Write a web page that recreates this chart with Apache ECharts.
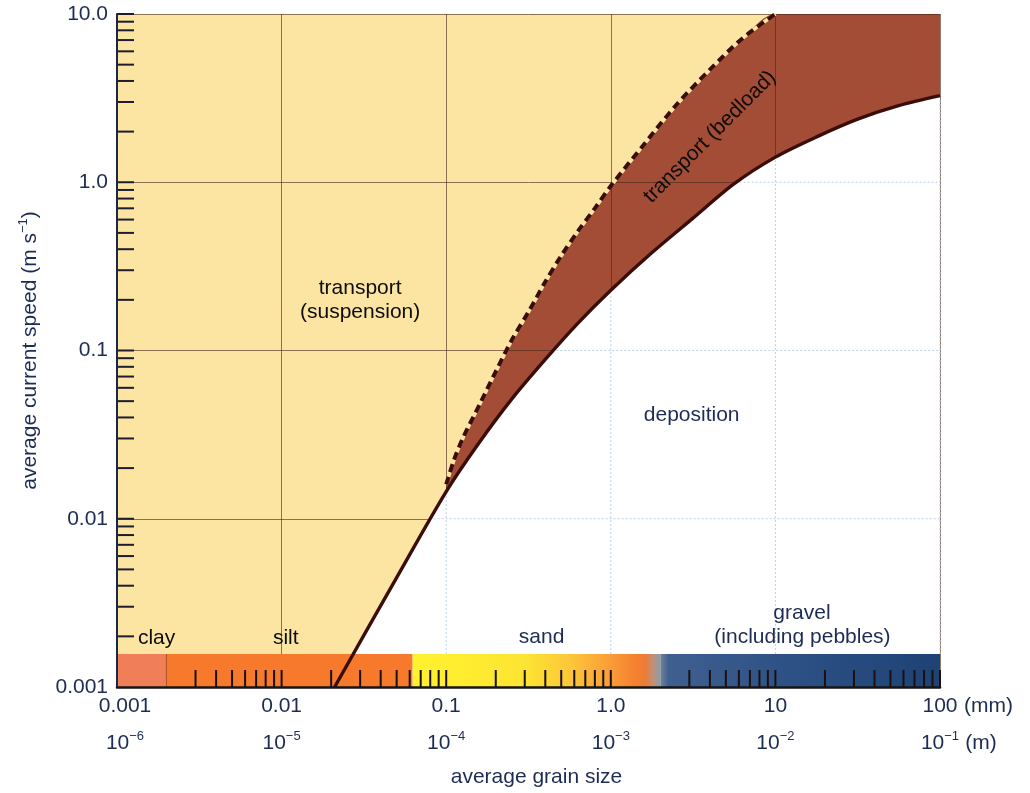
<!DOCTYPE html>
<html><head><meta charset="utf-8">
<script src="https://cdn.jsdelivr.net/npm/echarts@6/dist/echarts.min.js"></script>
<style>html,body{margin:0;padding:0;background:#fff}#c{width:1030px;height:793px}</style>
</head><body><div id="c"></div>
<script>
// ---------------- data ----------------
const xTickMm  = ['0.001', '0.01', '0.1', '1.0', '10', '100'];
const xTickExp = ['\u22126', '\u22125', '\u22124', '\u22123', '\u22122', '\u22121'];
const yTickLabels = ['0.001', '0.01', '0.1', '1.0', '10.0'];

// lower boundary of transport (solid curve): grain size mm, speed m/s
const solidX = [0.021, 0.05, 0.1, 0.158, 0.25, 0.4, 0.63, 1.0, 1.78, 3.16, 5.6, 10, 17.8, 31.6, 56, 100];
const solidY = [0.001, 0.00447, 0.0145, 0.0282, 0.0514, 0.0885, 0.145, 0.228, 0.382, 0.612, 0.977, 1.41, 1.86, 2.37, 2.85, 3.27];

// suspension / bedload boundary (dashed curve)
const dashX = [0.1, 0.112, 0.126, 0.16, 0.2, 0.25, 0.32, 0.4, 0.5, 0.63, 0.8, 1.0, 1.6, 2.5, 4.0, 6.3, 10];
const dashY = [0.016, 0.0226, 0.030, 0.048, 0.075, 0.115, 0.173, 0.256, 0.366, 0.51, 0.70, 0.95, 1.69, 2.88, 4.67, 7.16, 10];

// top edge of the bedload zone
const topEdgeX = [100];
const topEdgeY = [10];

// grain-size classes along the bottom band
const bandNames = ['clay', 'silt', 'sand', 'gravel'];
const bandFrom  = [0.001, 0.002, 0.0625, 2];
const bandTo    = [0.002, 0.0625, 2, 100];
const bandTop   = 0.00157;

const bandTicks = [0.003,0.004,0.005,0.006,0.007,0.008,0.009,0.01,
  0.02,0.03,0.04,0.05,0.06,0.07,0.08,0.09,0.1,
  0.2,0.3,0.4,0.5,0.6,0.7,0.8,0.9,1,
  3,4,5,6,7,8,9,10,
  20,30,40,50,60,70,80,90,100];
const yTicks = [0.002,0.003,0.004,0.005,0.006,0.007,0.008,0.009,0.01,
  0.02,0.03,0.04,0.05,0.06,0.07,0.08,0.09,0.1,
  0.2,0.3,0.4,0.5,0.6,0.7,0.8,0.9,1,
  2,3,4,5,6,7,8,9,10];

const faintVx = [0.1, 1, 10, 100];
const faintHy = [0.01, 0.1, 1];

const annoText = ['transport\n(suspension)', 'transport (bedload)', 'deposition', 'clay', 'silt', 'sand', 'gravel', '(including pebbles)'];
const annoX = [0.03, 4.0, 3.1, 0.00134, 0.0106, 0.38, 14.5, 14.6];
const annoY = [0.2, 1.86, 0.041, 0.00195, 0.00195, 0.00198, 0.00275, 0.00198];

// ---------------- styles ----------------
const FONT = '"Liberation Sans", Arial, sans-serif';
const NAVY = '#1d2b55';
const INK = '#0c0c0c';
const CURVE = '#3a0d0a';
const YELLOW = '#fce5a3';
const annoColor = [INK, INK, NAVY, INK, INK, NAVY, NAVY, NAVY];
const annoAlign = ['center', 'center', 'center', 'left', 'center', 'center', 'center', 'center'];
const annoRot = [0, 45, 0, 0, 0, 0, 0, 0];
const LG = echarts.graphic.LinearGradient;
const bandFill = [
  '#f07e57',
  '#f6792c',
  new LG(0, 0, 1, 0, [
    {offset: 0, color: '#fff22e'}, {offset: 0.45, color: '#fde532'},
    {offset: 0.65, color: '#fcc43a'}, {offset: 0.8, color: '#f99c38'},
    {offset: 0.9, color: '#f5802f'}, {offset: 0.94, color: '#ec7c36'},
    {offset: 0.975, color: '#b89483'}, {offset: 1, color: '#8e9aa6'}]),
  new LG(0, 0, 1, 0, [
    {offset: 0, color: '#70839a'}, {offset: 0.03, color: '#3f5f8f'},
    {offset: 0.5, color: '#2c5084'}, {offset: 1, color: '#1f4275'}])
];

function logInterp(xs, ys, v) {
  const lv = Math.log10(v);
  for (let i = 0; i < xs.length - 1; i++) {
    const a = Math.log10(xs[i]), b = Math.log10(xs[i + 1]);
    if (lv >= a && lv <= b) {
      const t = (lv - a) / (b - a);
      return Math.pow(10, Math.log10(ys[i]) + t * (Math.log10(ys[i + 1]) - Math.log10(ys[i])));
    }
  }
  return lv < Math.log10(xs[0]) ? ys[0] : ys[ys.length - 1];
}

const zip = (a, b) => a.map((v, i) => [v, b[i]]);
const solidData = zip(solidX, solidY);
const dashData = zip(dashX, dashY);
const brownData = dashData.concat(zip(topEdgeX, topEdgeY));
const SMOOTH = 0.3;

const chart = echarts.init(document.getElementById('c'), null, {renderer: 'canvas'});

const xRich = {
  a: {fontSize: 21, lineHeight: 24, color: NAVY, fontFamily: FONT},
  b: {fontSize: 21, lineHeight: 24, color: NAVY, fontFamily: FONT, verticalAlign: 'bottom'},
  s: {fontSize: 13, lineHeight: 14, color: NAVY, fontFamily: FONT, verticalAlign: 'top'},
  sp: {fontSize: 4, lineHeight: 12},
  q: {width: 16, fontSize: 21, lineHeight: 24},
  pm: {width: 56, fontSize: 21, lineHeight: 24},
  um: {width: 56, fontSize: 21, lineHeight: 24, color: NAVY, fontFamily: FONT},
  p2: {width: 38, fontSize: 21, lineHeight: 24},
  u2: {width: 38, fontSize: 21, lineHeight: 24, color: NAVY, fontFamily: FONT, verticalAlign: 'bottom'}
};

const hiddenAxisBase = {
  show: true, gridIndex: 0, axisLine: {show: false}, axisTick: {show: false}, axisLabel: {show: false}
};

const option = {
  animation: false,
  backgroundColor: '#ffffff',
  grid: {left: 117, top: 14, width: 823, height: 673, show: true, backgroundColor: YELLOW, borderWidth: 0, containLabel: false, outerBoundsMode: 'none'},
  xAxis: [
    {
      type: 'log', logBase: 10, min: 0.001, max: 100, splitNumber: 5, position: 'bottom', z: 8,
      name: 'average grain size', nameLocation: 'middle', nameGap: 80,
      nameTextStyle: {fontSize: 21, color: NAVY, fontFamily: FONT, padding: [0, 0, 0, 16]},
      axisLine: {show: true, lineStyle: {color: '#151515', width: 2.5}},
      axisTick: {show: false}, splitLine: {show: false}, minorTick: {show: false},
      axisLabel: {
        show: true, margin: 7, showMinLabel: true, showMaxLabel: true, hideOverlap: false,
        formatter: function (v) {
          const i = Math.round(Math.log10(v)) + 3;
          if (i === 0) return '{q| }{a|' + xTickMm[i] + '}\n{sp| }\n{q| }{b|10}{s|' + xTickExp[i] + '}';
          if (i === 5) return '{pm| }{a|' + xTickMm[i] + '}{um| (mm)}\n{sp| }\n{p2| }{b|10}{s|' + xTickExp[i] + '}{u2| (m)}';
          return '{a|' + xTickMm[i] + '}\n{sp| }\n{b|10}{s|' + xTickExp[i] + '}';
        },
        rich: xRich
      }
    },
    Object.assign({type: 'log', logBase: 10, min: 0.001, max: 100, splitNumber: 5, z: 2,
      splitLine: {show: true, lineStyle: {color: 'rgba(75,40,28,0.62)', width: 1}}}, hiddenAxisBase)
  ],
  yAxis: [
    {
      type: 'log', logBase: 10, min: 0.001, max: 10, splitNumber: 4, position: 'left', z: 8,
      name: '{t|average current speed (m s}{s|\u22121}{t|)}', nameLocation: 'middle', nameGap: 76,
      nameTextStyle: {
        fontSize: 21, color: NAVY, fontFamily: FONT,
        rich: {
          t: {fontSize: 21, lineHeight: 24, color: NAVY, fontFamily: FONT, verticalAlign: 'bottom'},
          s: {fontSize: 13, lineHeight: 14, color: NAVY, fontFamily: FONT, verticalAlign: 'top'}
        }
      },
      axisLine: {show: true, lineStyle: {color: '#1c2748', width: 2}},
      axisTick: {show: false}, splitLine: {show: false},
      axisLabel: {
        show: true, margin: 9, fontSize: 21, color: NAVY, fontFamily: FONT,
        showMinLabel: true, showMaxLabel: true,
        formatter: v => yTickLabels[Math.round(Math.log10(v)) + 3]
      }
    },
    Object.assign({type: 'log', logBase: 10, min: 0.001, max: 10, splitNumber: 4, z: 2,
      splitLine: {show: true, lineStyle: {color: 'rgba(75,40,28,0.62)', width: 1}}}, hiddenAxisBase)
  ],
  series: [
    { // bedload zone (brown) under dashed curve + top edge
      type: 'line', name: 'bedload', z: 1, data: brownData, smooth: SMOOTH, symbol: 'none',
      lineStyle: {width: 0, opacity: 0}, areaStyle: {color: '#a34d36', opacity: 1, origin: 'start'}
    },
    { // deposition zone (white) under solid curve
      type: 'line', name: 'deposition', z: 3, data: solidData, smooth: SMOOTH, symbol: 'none',
      lineStyle: {width: 0, opacity: 0}, areaStyle: {color: '#ffffff', opacity: 1, origin: 'start'}
    },
    { // faint vertical grid in deposition zone
      type: 'custom', z: 4, data: faintVx.map(v => [v]), encode: {x: 0},
      renderItem: function (params, api) {
        const x = api.value(0);
        const a = api.coord([x, bandTop]);
        const b = api.coord([x, logInterp(solidX, solidY, x)]);
        return {type: 'line', shape: {x1: a[0], y1: a[1], x2: b[0], y2: b[1] + 3},
          style: {stroke: '#b8d0e6', lineWidth: 1, lineDash: [2, 2]}};
      }
    },
    { // faint horizontal grid in deposition zone
      type: 'custom', z: 4, data: faintHy.map(v => [v]), encode: {y: 0},
      renderItem: function (params, api) {
        const y = api.value(0);
        const a = api.coord([logInterp(solidY, solidX, y), y]);
        const b = api.coord([100, y]);
        return {type: 'line', shape: {x1: a[0] + 3, y1: a[1], x2: b[0], y2: b[1]},
          style: {stroke: '#b8d0e6', lineWidth: 1, lineDash: [2, 2]}};
      }
    },
    { // grain-size band
      type: 'custom', z: 5, data: bandFrom.map((f, i) => [f, bandTo[i], bandTop]), encode: {x: [0, 1], y: 2},
      renderItem: function (params, api) {
        const i = params.dataIndex;
        const a = api.coord([api.value(0), 0.001]);
        const b = api.coord([api.value(1), api.value(2)]);
        const children = [{type: 'rect', shape: {x: a[0], y: b[1], width: b[0] - a[0], height: a[1] - b[1]},
          style: {fill: bandFill[i]}}];
        if (bandNames[i] === 'clay') {
          children.push({type: 'line', shape: {x1: b[0], y1: b[1], x2: b[0], y2: a[1]},
            style: {stroke: '#7a3a22', lineWidth: 1.2}});
        }
        return {type: 'group', children: children};
      }
    },
    { // band ticks
      type: 'custom', z: 5, data: bandTicks.map(v => [v, 0.001]), encode: {x: 0, y: 1},
      renderItem: function (params, api) {
        const p = api.coord([api.value(0), api.value(1)]);
        return {type: 'line', shape: {x1: p[0], y1: p[1], x2: p[0], y2: p[1] - 17},
          style: {stroke: '#1a1010', lineWidth: 2}};
      }
    },
    { // solid curve
      type: 'line', name: 'transport threshold', z: 6, data: solidData, smooth: SMOOTH, symbol: 'none',
      lineStyle: {color: CURVE, width: 3.4}
    },
    { // light underlay so the dash gaps read as pale
      type: 'line', name: 'dash underlay', z: 6, data: dashData, smooth: SMOOTH, symbol: 'none',
      lineStyle: {color: YELLOW, width: 3.6}
    },
    { // dashed curve
      type: 'line', name: 'suspension threshold', z: 6, data: dashData, smooth: SMOOTH, symbol: 'none',
      lineStyle: {color: CURVE, width: 4, type: [8, 5], cap: 'butt'}
    },
    { // y axis ticks (inside)
      type: 'custom', z: 7, data: yTicks.map(v => [0.001, v]), encode: {x: 0, y: 1},
      renderItem: function (params, api) {
        const p = api.coord([api.value(0), api.value(1)]);
        return {type: 'line', shape: {x1: p[0], y1: p[1], x2: p[0] + 17, y2: p[1]},
          style: {stroke: '#1b1d30', lineWidth: 2}};
      }
    },
    { // annotations
      type: 'custom', z: 9, data: annoX.map((x, i) => [x, annoY[i]]), encode: {x: 0, y: 1},
      renderItem: function (params, api) {
        const i = params.dataIndex;
        const p = api.coord([api.value(0), api.value(1)]);
        return {type: 'text', x: p[0], y: p[1], rotation: annoRot[i] * Math.PI / 180,
          style: {text: annoText[i], fill: annoColor[i], fontSize: 21, fontFamily: FONT,
            align: annoAlign[i], verticalAlign: 'middle', lineHeight: 24}};
      }
    }
  ]
};
chart.setOption(option);
</script>
</body></html>
